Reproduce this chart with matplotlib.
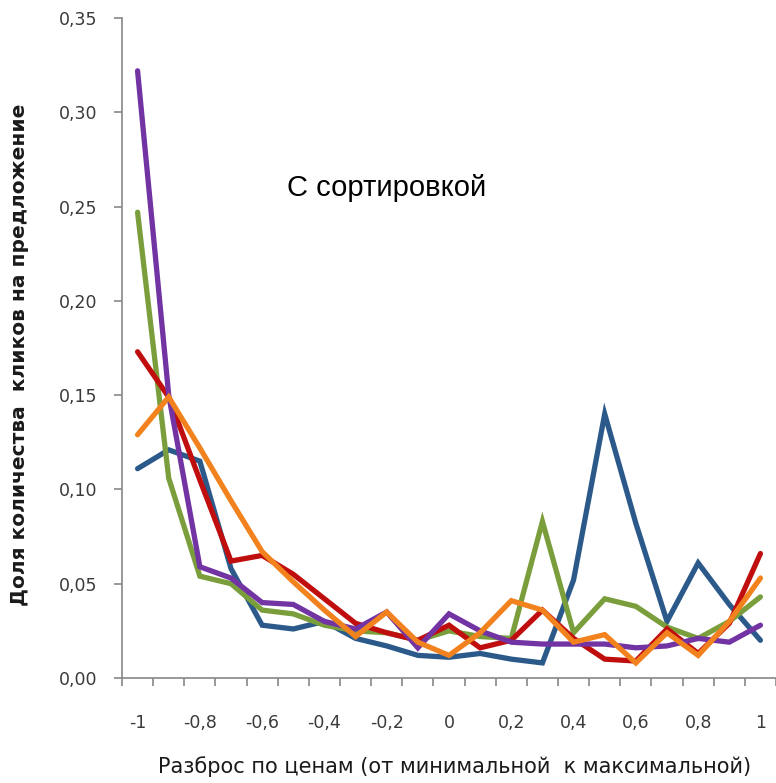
import numpy as np
import matplotlib
matplotlib.use("Agg")
import matplotlib.pyplot as plt
from matplotlib.ticker import FuncFormatter, MultipleLocator

# price spread categories (from min to max price)
spread = [round(-1 + 0.1 * i, 1) for i in range(21)]

blue = [0.111, 0.121, 0.115, 0.058, 0.028, 0.026, 0.030, 0.021, 0.017, 0.012, 0.011,
        0.013, 0.010, 0.008, 0.052, 0.140, 0.082, 0.030, 0.061, 0.039, 0.020]
green = [0.247, 0.106, 0.054, 0.050, 0.036, 0.034, 0.028, 0.025, 0.024, 0.020, 0.025,
         0.022, 0.021, 0.083, 0.024, 0.042, 0.038, 0.027, 0.021, 0.030, 0.043]
red = [0.173, 0.149, 0.105, 0.062, 0.065, 0.055, 0.042, 0.029, 0.024, 0.020, 0.028,
       0.016, 0.020, 0.036, 0.021, 0.010, 0.009, 0.026, 0.013, 0.029, 0.066]
purple = [0.322, 0.150, 0.059, 0.053, 0.040, 0.039, 0.030, 0.026, 0.035, 0.016, 0.034,
          0.025, 0.019, 0.018, 0.018, 0.018, 0.016, 0.017, 0.021, 0.019, 0.028]
orange = [0.129, 0.149, 0.122, 0.094, 0.067, 0.051, 0.036, 0.022, 0.035, 0.019, 0.012,
          0.024, 0.041, 0.036, 0.019, 0.023, 0.008, 0.024, 0.012, 0.030, 0.053]

SERIES = [(blue, "#2B5A8A"), (green, "#7A9E3C"), (red, "#C00E0E"),
          (purple, "#7233A3"), (orange, "#F2821E")]

xticks = [-1, -0.8, -0.6, -0.4, -0.2, 0, 0.2, 0.4, 0.6, 0.8, 1]
yticks = [0, 0.05, 0.10, 0.15, 0.20, 0.25, 0.30, 0.35]

fig = plt.figure(figsize=(7.76, 7.83), dpi=100)
ax = fig.add_axes([122 / 776, 1 - 678 / 783, 654 / 776, (678 - 18) / 783])

for vals, c in SERIES:
    ax.plot(spread, vals, color=c, lw=3.8, solid_joinstyle="miter", solid_capstyle="round")

ax.set_xlim(-1.05, 1.05)
ax.set_ylim(0, 0.35)
for s in ("top", "right"):
    ax.spines[s].set_visible(False)
for s in ("left", "bottom"):
    ax.spines[s].set_color("#888888")
    ax.spines[s].set_linewidth(1.2)

tick_col = "#3a3a3a"
ax.set_yticks(yticks)
ax.yaxis.set_major_formatter(FuncFormatter(lambda v, p: f"{v:.2f}".replace(".", ",")))
ax.tick_params(axis="y", direction="out", length=6, width=1.2, color="#888888",
               pad=12, labelsize=12.5, labelcolor=tick_col)

ax.set_xticks(xticks)
ax.set_xticklabels([f"{v:g}".replace(".", ",") for v in xticks])
ax.tick_params(axis="x", which="major", length=0, pad=26, labelsize=12.5, labelcolor=tick_col)
ax.xaxis.set_minor_locator(MultipleLocator(0.1, offset=0.05))
ax.tick_params(axis="x", which="minor", direction="out", length=6, width=1.2, color="#888888")

fig.text(455 / 776, 1 - 767 / 783, "Разброс по ценам (от минимальной  к максимальной)",
         ha="center", va="center", fontsize=15, color="#1a1a1a")
fig.text(20 / 776, 1 - 355 / 783, "Доля количества  кликов на предложение",
         ha="center", va="center", rotation=90, fontsize=14.5, fontweight="bold", color="#1a1a1a")
fig.text(287 / 776, 1 - 188 / 783, "С сортировкой", ha="left", va="center",
         fontsize=21, family="Liberation Sans", color="black")

fig.savefig("out.png", dpi=100)
